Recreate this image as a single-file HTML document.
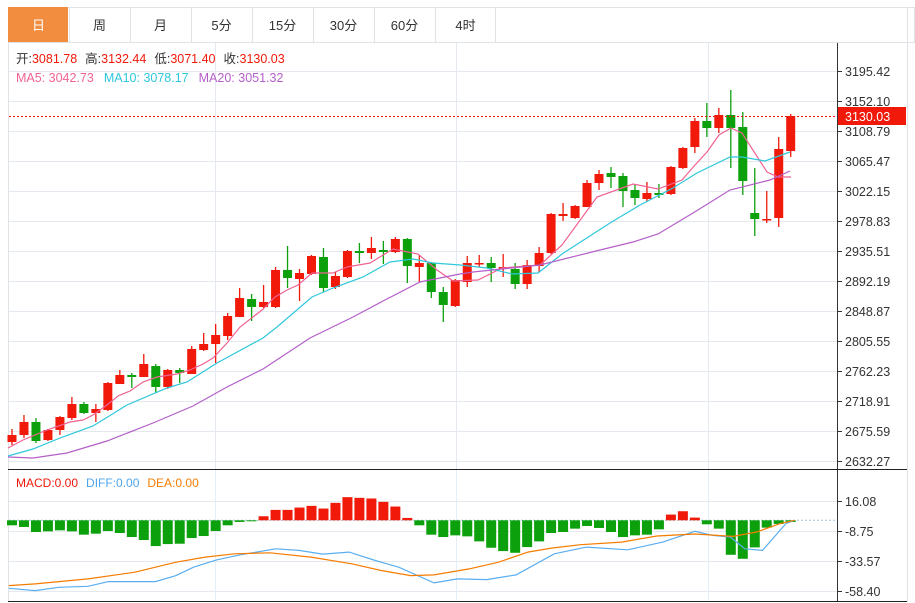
<!DOCTYPE html>
<html><head><meta charset="utf-8"><style>
body{margin:0;background:#fff;width:915px;height:603px;overflow:hidden;font-family:"Liberation Sans","Noto Sans CJK SC",sans-serif;}
svg{position:absolute;left:0;top:0}
</style></head><body>
<svg id="s" width="915" height="603" xmlns="http://www.w3.org/2000/svg" font-family="Liberation Sans, Noto Sans CJK SC, sans-serif"></svg>
<script>
var S=document.getElementById('s'),h='';
function L(x1,y1,x2,y2,c,w,d){h+='<line x1="'+x1+'" y1="'+y1+'" x2="'+x2+'" y2="'+y2+'" stroke="'+c+'" stroke-width="'+(w||1)+'"'+(d?' stroke-dasharray="'+d+'"':'')+'/>';}
function R(x,y,w,hh,f,st){h+='<rect x="'+x+'" y="'+y+'" width="'+w+'" height="'+hh+'" fill="'+f+'"'+(st?' stroke="'+st+'"':'')+'/>';}
function T(x,y,t,c,sz,a){h+='<text x="'+x+'" y="'+y+'" fill="'+c+'" font-size="'+(sz||12)+'"'+(a?' text-anchor="'+a+'"':'')+'>'+t+'</text>';}
function P(pts,c,w){h+='<polyline fill="none" stroke="'+c+'" stroke-width="'+(w||1.2)+'" points="'+pts.map(function(p){return p[0]+','+p[1]}).join(' ')+'"/>';}
// tabs
R(8.5,7.5,906,35,'#fff','#dfe3e8');
R(8,7,60,35,'#F28C3F');
var tabs=['日','周','月','5分','15分','30分','60分','4时'];
for(var i=0;i<tabs.length;i++){var x=8+i*61;if(i>0)L(x+.5,7,x+.5,42,'#dfe3e8');T(x+30.5,30,tabs[i],i==0?'#fff':'#333',13,'middle');}
L(495.5,7,495.5,42,'#dfe3e8');
// panel borders
L(8.5,42,8.5,602,'#dfe3e8');L(907.5,7,907.5,602,'#dfe3e8');
// grid main
var labs=['3195.42','3152.10','3108.79','3065.47','3022.15','2978.83','2935.51','2892.19','2848.87','2805.55','2762.23','2718.91','2675.59','2632.27'];
for(i=0;i<14;i++){var y=71+i*30+.5;L(9,y,837,y,'#e4e9ef');L(837,y,842,y,'#333');T(845,y+4.5,labs[i],'#333',12.5);}
[215.5,456.5,708.5].forEach(function(x){L(x,42,x,469,'#e4e9ef');L(x,470,x,600,'#e4eef6');});
[501,531,561,591].forEach(function(y,k){L(9,y+.5,837,y+.5,'#e4e9ef');L(837,y+.5,842,y+.5,'#333');T(845,y+5,['16.08','-8.75','-33.57','-58.40'][k],'#333',12.5);});
L(837.5,43,837.5,602,'#333');
L(8,469.5,907,469.5,'#222');L(8,601.5,907,601.5,'#222');
// candles [o,c,h,l] pixel y
var C=[[442,435,429,445],[435,422,415,438],[422,441,418,443],[440,430,429,441],[430,417,416,435],[418,404,397,420],[404,413,402,414],[413,409,404,422],[410,383,382,411],[384,375,370,384],[375,377,373,388],[377,364,354,377],[366,387,364,393],[387,370,369,389],[370,373,368,383],[374,349,346,374],[350,344,333,351],[344,335,324,363],[336,316,313,340],[317,298,288,317],[299,307,294,321],[307,302,285,308],[307,270,267,308],[270,278,246,288],[279,273,269,301],[274,256,255,275],[257,288,248,292],[287,276,272,289],[277,251,250,278],[251,253,243,263],[253,248,237,259],[250,252,241,264],[252,239,237,253],[239,266,238,283],[267,263,255,282],[263,292,262,298],[292,305,287,322],[306,280,279,307],[282,263,256,287],[264,263,255,267],[263,268,257,282],[268,267,254,277],[269,284,263,289],[284,265,260,289],[266,253,247,272],[253,214,213,254],[216,214,203,221],[218,206,205,219],[207,183,180,207],[183,174,170,190],[173,177,167,188],[176,191,173,207],[190,198,184,205],[199,193,182,201],[193,195,184,198],[194,167,166,195],[168,148,147,169],[147,121,118,153],[121,128,103,137],[128,115,108,133],[115,128,90,168],[127,181,112,195],[213,219,168,236],[220,219,191,223],[218,149,137,227],[151,116,114,157]];
var RED='#F0190A',GRN='#0CA10C';
C.forEach(function(c,i){var x=12+i*11.98,col=c[1]<c[0]?RED:GRN;L(x,c[2],x,c[3],col,1.3);var t=Math.min(c[0],c[1]),b=Math.max(c[0],c[1]);R(x-4.5,t,9,Math.max(b-t,1.5),col);});
L(9,116.5,837,116.5,RED,1,'2,2');
R(838,107,68,18,RED);T(845,121,'3130.03','#fff',12.5);
// MAs
P([[8,448],[23,440],[47,430],[70,422],[83,420],[93,415],[107,405],[118,396],[130,391],[143,382],[157,377],[177,374],[190,370],[203,364],[213,358],[227,343],[240,327],[262,310],[275,297],[287,290],[298,285],[312,273],[333,273],[347,267],[370,263],[393,249],[418,254],[437,270],[453,281],[478,280],[502,268],[540,265],[562,245],[597,197],[633,184],[658,189],[682,180],[695,165],[707,152],[719,135],[731,128],[742,133],[767,172],[778,177],[791,177]],'#F06292');
P([[8,456],[33,449],[60,438],[93,426],[127,405],[167,388],[187,382],[217,363],[263,338],[277,327],[312,297],[333,288],[363,277],[390,262],[413,259],[433,263],[460,265],[487,268],[512,274],[538,273],[562,254],[610,223],[640,205],[673,188],[697,173],[730,157],[742,157],[765,161],[790,152]],'#2EC7DB');
P([[8,457],[33,458],[67,453],[107,441],[153,423],[193,406],[227,387],[263,369],[310,338],[353,317],[383,301],[420,282],[460,274],[473,272],[540,265],[600,250],[633,242],[658,234],[693,213],[730,190],[770,180],[790,171]],'#B45FC8');
// header text
h+='<text x="16" y="63" font-size="12.5"><tspan fill="#333">开:</tspan><tspan fill="#F0190A">3081.78</tspan><tspan fill="#333" dx="8">高:</tspan><tspan fill="#F0190A">3132.44</tspan><tspan fill="#333" dx="8">低:</tspan><tspan fill="#F0190A">3071.40</tspan><tspan fill="#333" dx="8">收:</tspan><tspan fill="#F0190A">3130.03</tspan></text>';
h+='<text x="16" y="82" font-size="12.5"><tspan fill="#F06292">MA5: 3042.73</tspan><tspan fill="#2EC7DB" dx="10">MA10: 3078.17</tspan><tspan fill="#B45FC8" dx="10">MA20: 3051.32</tspan></text>';
h+='<text x="16" y="487" font-size="12"><tspan fill="#F0190A">MACD:0.00</tspan><tspan fill="#4EA6F0" dx="8">DIFF:0.00</tspan><tspan fill="#F57C00" dx="8">DEA:0.00</tspan></text>';
// MACD
var zy=[180,185,200,198,195,198,208,205,197,203,215,224,242,236,235,218,212,197,180,170,168,153,134,134,127,122,130,113,96,98,100,110,124,158,180,208,215,210,213,228,247,257,262,245,228,203,200,190,182,188,200,215,210,208,192,148,138,157,177,190,268,280,246,187,176,170];
var Z=520.3;
L(9,Z,837,Z,'#9cc3e0',1,'2,2');
zy.forEach(function(v,i){var x=12+i*11.98,y=465+v/2.985,col=y<Z?RED:GRN;var t=Math.min(y,Z),b=Math.max(y,Z);R(x-5,t,10,Math.max(b-t,1),col);});
function cv(a){return a.map(function(p){return [(p[0]/1.705).toFixed(1),(465+p[1]/2.985).toFixed(1)]});}
P(cv([[15,368],[60,375],[100,365],[150,362],[185,348],[265,348],[300,330],[330,305],[370,283],[410,268],[470,250],[510,255],[550,266],[595,260],[640,285],[680,305],[740,352],[780,340],[830,342],[880,328],[945,265],[1000,245],[1070,253],[1130,230],[1185,198],[1215,210],[1245,215],[1270,250],[1300,255],[1340,175],[1355,165]]),'#5AAEF0');
P(cv([[15,360],[60,355],[150,340],[230,320],[300,290],[350,275],[400,265],[460,262],[530,275],[600,295],[650,315],[700,330],[740,328],[800,310],[850,290],[900,260],[940,248],[990,238],[1060,230],[1120,212],[1185,206],[1250,213],[1290,200],[1330,175],[1355,165]]),'#F57C00');
S.innerHTML=h;
</script>
</body></html>
